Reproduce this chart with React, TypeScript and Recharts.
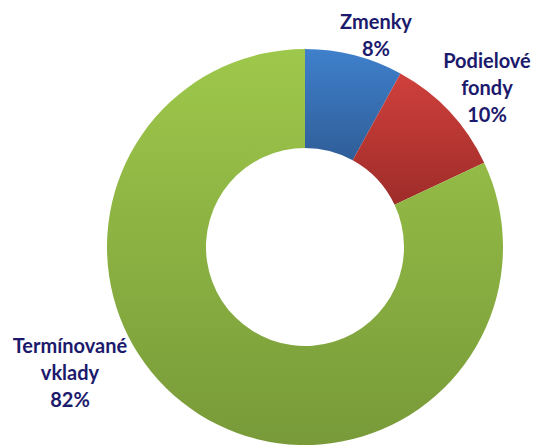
import React from "react";
import { PieChart, Pie, Cell } from "recharts";

// shares of the portfolio, in percent
const categories = ["Zmenky", "Podielové fondy", "Termínované vklady"];
const shares = [8, 10, 82];

// gradient stops per slice (top, bottom)
const gradients = [
  ["#3f80cc", "#2f5e98"],
  ["#cf403c", "#9e2c29"],
  ["#9ec84b", "#789a39"],
];

// label anchor offsets from the pie centre (first baseline)
const labelOffsets = [
  { dx: 71, dy: -218 },
  { dx: 182, dy: -179 },
  { dx: -235, dy: 106 },
];

const data = categories.map((name, i) => ({ name, value: shares[i] }));

const renderLabel = (props: any) => {
  const { cx, cy, index, name, value } = props;
  const off = labelOffsets[index];
  const lines = [...name.split(" "), `${value}%`];
  return (
    <text
      x={cx + off.dx}
      y={cy + off.dy}
      textAnchor="middle"
      fill="#1c1a6c"
      fontFamily="Lato, sans-serif"
      fontWeight="bold"
      fontSize={20}
    >
      {lines.map((line, i) => (
        <tspan key={i} x={cx + off.dx} dy={i === 0 ? 0 : 27}>
          {line}
        </tspan>
      ))}
    </text>
  );
};

const App: React.FC = () => {
  return (
    <div style={{ position: "fixed", left: 0, top: 0, width: 536, height: 445, background: "#fff" }}>
      <PieChart width={536} height={445} margin={{ top: 0, right: 0, bottom: 0, left: 0 }}>
        <defs>
          {gradients.map((g, i) => (
            <linearGradient key={i} id={`grad${i}`} x1="0" y1="0" x2="0" y2="1">
              <stop offset="0%" stopColor={g[0]} />
              <stop offset="100%" stopColor={g[1]} />
            </linearGradient>
          ))}
        </defs>
        <Pie
          data={data}
          dataKey="value"
          nameKey="name"
          cx={305}
          cy={247}
          innerRadius={99}
          outerRadius={198}
          startAngle={90}
          endAngle={-270}
          stroke="none"
          labelLine={false}
          label={renderLabel}
          isAnimationActive={false}
        >
          {data.map((d, i) => (
            <Cell key={d.name} fill={`url(#grad${i})`} />
          ))}
        </Pie>
      </PieChart>
    </div>
  );
};

export default App;
